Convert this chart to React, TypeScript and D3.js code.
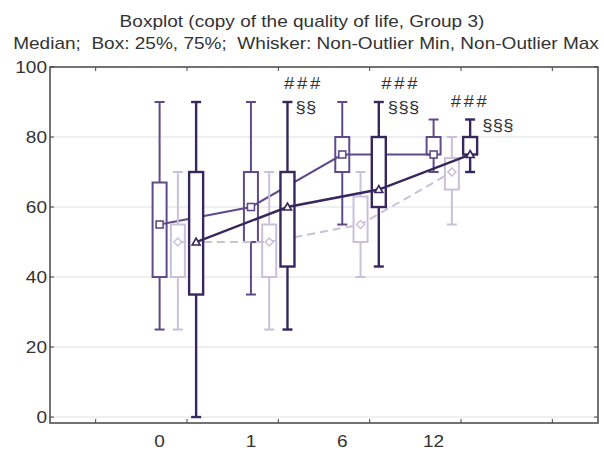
import React from "react";
import * as d3 from "d3";

const categories = ["0", "1", "6", "12"];
const seriesNames = ["A", "B", "C"];
// per series: arrays across categories
const wMin = [
  [25, 35, 55, 70],
  [25, 25, 40, 55],
  [0, 25, 43, 70],
];
const q1 = [
  [40, 50, 70, 75],
  [40, 40, 50, 65],
  [35, 43, 60, 75],
];
const med = [
  [55, 60, 75, 75],
  [50, 50, 55, 70],
  [50, 60, 65, 75],
];
const q3 = [
  [67, 70, 80, 80],
  [55, 55, 63, 74],
  [70, 70, 80, 80],
];
const wMax = [
  [90, 90, 90, 85],
  [70, 70, 70, 80],
  [90, 90, 90, 85],
];
const yTicks = [0, 20, 40, 60, 80, 100];
const annotations = [
  { cat: 1, top: "###", bottom: "§§" },
  { cat: 2, top: "###", bottom: "§§§" },
  { cat: 3, top: "###", bottom: "§§§" },
];

const colors = ["#5f4b8b", "#c9c0da", "#36275e"];
const widths = [2, 2, 2.4];
const SX = 1.12;

function T(props: {
  x: number;
  y: number;
  size: number;
  anchor?: string;
  ls?: number;
  children: React.ReactNode;
}) {
  return (
    <text
      transform={`translate(${props.x},${props.y}) scale(${SX},1)`}
      textAnchor={props.anchor || "start"}
      fontSize={props.size}
      letterSpacing={props.ls || 0}
      fill="#333"
    >
      {props.children}
    </text>
  );
}

export default function App() {
  const W = 604, H = 452;
  const left = 50, right = 598, top = 67, bottom = 423;
  const x = d3.scaleLinear().domain([-0.5, 5.5]).range([left, right]);
  const y = d3.scaleLinear().domain([-1.7, 100]).range([bottom, top]);
  const off = [0.7, 0.9, 1.1];
  const boxW = 14;
  const capW = 10;
  const font = "'Liberation Sans', Arial, Helvetica, sans-serif";

  const seriesEls = seriesNames.map((_, s) => {
    const c = colors[s];
    const sw = widths[s];
    const cx = (g: number) => x(g + off[s]);
    const lineGen = d3
      .line<number>()
      .x((_, g) => cx(g))
      .y((d) => y(d));
    return (
      <g key={s}>
        {categories.map((_, g) => (
          <g key={g} stroke={c} strokeWidth={sw} fill="none">
            <line x1={cx(g)} x2={cx(g)} y1={y(wMax[s][g])} y2={y(q3[s][g])} />
            <line x1={cx(g)} x2={cx(g)} y1={y(q1[s][g])} y2={y(wMin[s][g])} />
            <line x1={cx(g) - capW / 2} x2={cx(g) + capW / 2} y1={y(wMax[s][g])} y2={y(wMax[s][g])} />
            <line x1={cx(g) - capW / 2} x2={cx(g) + capW / 2} y1={y(wMin[s][g])} y2={y(wMin[s][g])} />
            <rect
              x={cx(g) - boxW / 2}
              y={y(q3[s][g])}
              width={boxW}
              height={y(q1[s][g]) - y(q3[s][g])}
              fill="#fff"
            />
          </g>
        ))}
        <path
          d={lineGen(med[s]) || ""}
          fill="none"
          stroke={c}
          strokeWidth={sw}
          strokeDasharray={s === 1 ? "8,5" : undefined}
        />
        {categories.map((_, g) => {
          const px = cx(g), py = y(med[s][g]);
          if (s === 0)
            return <rect key={g} x={px - 3.5} y={py - 3.5} width={7} height={7} fill="#fff" stroke={c} strokeWidth={1.6} />;
          if (s === 1)
            return (
              <path key={g} d={`M${px},${py - 4}L${px + 4},${py}L${px},${py + 4}L${px - 4},${py}Z`} fill="#fff" stroke={c} strokeWidth={1.5} />
            );
          return (
            <path key={g} d={`M${px},${py - 4}L${px + 4},${py + 3}L${px - 4},${py + 3}Z`} fill="#fff" stroke={c} strokeWidth={1.6} />
          );
        })}
      </g>
    );
  });

  const xTicks = d3.range(0, 6);

  return (
    <svg width={W} height={H} style={{ position: "absolute", left: 0, top: 0, background: "#fff" }} fontFamily={font}>
      <T x={302} y={27} size={17} anchor="middle">
        Boxplot (copy of the quality of life, Group 3)
      </T>
      <T x={306} y={49} size={17} anchor="middle">
        Median;{"\u00a0\u00a0"}Box: 25%, 75%;{"\u00a0\u00a0"}Whisker: Non-Outlier Min, Non-Outlier Max
      </T>
      {yTicks.filter((t) => t < 100).map((t) => (
        <line key={t} x1={left} x2={right} y1={y(t)} y2={y(t)} stroke="#e0e0e0" strokeWidth={1} />
      ))}
      {yTicks.map((t) => (
        <g key={"yt" + t}>
          <line x1={left} x2={left + 4} y1={y(t)} y2={y(t)} stroke="#444" />
          <line x1={right - 4} x2={right} y1={y(t)} y2={y(t)} stroke="#444" />
          <T x={left - 3} y={y(t) + 6} size={17} anchor="end">
            {t}
          </T>
        </g>
      ))}
      {xTicks.map((t) => (
        <g key={"xt" + t}>
          <line x1={x(t)} x2={x(t)} y1={bottom} y2={bottom - 4} stroke="#444" />
          <line x1={x(t)} x2={x(t)} y1={top} y2={top + 4} stroke="#444" />
        </g>
      ))}
      {categories.map((c, g) => (
        <T key={c} x={x(g + 0.7)} y={447} size={17} anchor="middle">
          {c}
        </T>
      ))}
      {seriesEls}
      {annotations.map((a) => {
        const cx = x(a.cat + off[2]);
        const cy = y(wMax[2][a.cat]);
        const shift = a.cat === 3 ? 0 : a.cat === 2 ? 22 : 16;
        const sx = a.cat === 3 ? 12 : a.cat === 2 ? 9 : 8;
        return (
          <g key={a.cat}>
            <T x={cx + shift} y={cy - 13} size={16.5} anchor="middle" ls={2.4}>
              {a.top}
            </T>
            <T x={cx + sx} y={cy + 11} size={16.5} anchor="start" ls={0.3}>
              {a.bottom}
            </T>
          </g>
        );
      })}
      <rect x={left} y={top} width={right - left} height={bottom - top} fill="none" stroke="#444" strokeWidth={1.5} />
    </svg>
  );
}
